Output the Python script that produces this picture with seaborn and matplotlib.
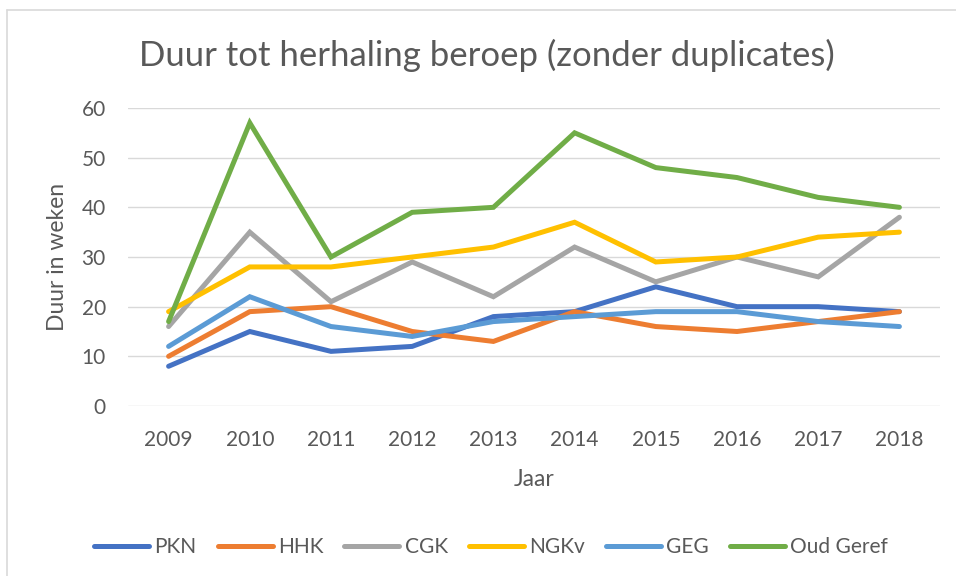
import numpy as np
import pandas as pd
import matplotlib
matplotlib.use('Agg')
import matplotlib.pyplot as plt
from matplotlib.lines import Line2D
import seaborn as sns

# data
years = ['2009', '2010', '2011', '2012', '2013', '2014', '2015', '2016', '2017', '2018']
series_names = ['PKN', 'HHK', 'CGK', 'NGKv', 'GEG', 'Oud Geref']
pkn = [8, 15, 11, 12, 18, 19, 24, 20, 20, 19]
hhk = [10, 19, 20, 15, 13, 19, 16, 15, 17, 19]
cgk = [16, 35, 21, 29, 22, 32, 25, 30, 26, 38]
ngkv = [19, 28, 28, 30, 32, 37, 29, 30, 34, 35]
geg = [12, 22, 16, 14, 17, 18, 19, 19, 17, 16]
oud_geref = [17, 57, 30, 39, 40, 55, 48, 46, 42, 40]
colors = ['#4472C4', '#ED7D31', '#A5A5A5', '#FFC000', '#5B9BD5', '#70AD47']

rows = []
for name, vals in zip(series_names, [pkn, hhk, cgk, ngkv, geg, oud_geref]):
    for yr, v in zip(years, vals):
        rows.append({'Jaar': yr, 'Kerk': name, 'Duur': v})
df = pd.DataFrame(rows)

sns.set_theme(style='white')
plt.rcParams['font.family'] = ['Lato', 'DejaVu Sans']
text_col = '#595959'

fig = plt.figure(figsize=(9.56, 5.76), dpi=100)
ax = fig.add_axes([128 / 956, 1 - 406 / 576, (940 - 128) / 956, (406 - 108) / 576])

sns.lineplot(data=df, x='Jaar', y='Duur', hue='Kerk', hue_order=series_names,
             palette=colors, linewidth=3.6, ax=ax, legend=False, sort=False)
for ln in ax.lines:
    ln.set_solid_capstyle('round')
    ln.set_solid_joinstyle('miter')

ax.set_xlim(-0.5, len(years) - 0.5)
ax.set_ylim(0, 60)
ax.set_yticks(range(0, 61, 10))
ax.yaxis.grid(True, color='#D9D9D9', linewidth=1.0)
ax.set_axisbelow(True)
for s in ax.spines.values():
    s.set_visible(False)
ax.tick_params(axis='both', length=0, labelsize=15, labelcolor=text_col)
ax.tick_params(axis='y', pad=16)
ax.tick_params(axis='x', pad=17)

ax.set_xlabel('Jaar', fontsize=16.5, color=text_col, labelpad=14)
ax.set_ylabel('Duur in weken', fontsize=16.5, color=text_col, labelpad=10)

fig.text(487 / 956, 1 - 55 / 576, 'Duur tot herhaling beroep (zonder duplicates)',
         ha='center', va='center', fontsize=25, color=text_col)

handles = [Line2D([0], [0], color=c, linewidth=3.6, solid_capstyle='round') for c in colors]
leg = fig.legend(handles, series_names, loc='center', ncol=6,
                 bbox_to_anchor=(491 / 956, 1 - 547 / 576), frameon=False,
                 fontsize=15, handlelength=2.65, handletextpad=0.25, columnspacing=1.0)
for t in leg.get_texts():
    t.set_color(text_col)

# chart area border (top and left visible in the reference)
fig.add_artist(Line2D([7 / 956, 1], [1 - 10 / 576, 1 - 10 / 576], color='#D9D9D9', linewidth=1.2))
fig.add_artist(Line2D([7 / 956, 7 / 956], [0, 1 - 10 / 576], color='#D9D9D9', linewidth=1.2))

fig.savefig('out.png', dpi=100)
